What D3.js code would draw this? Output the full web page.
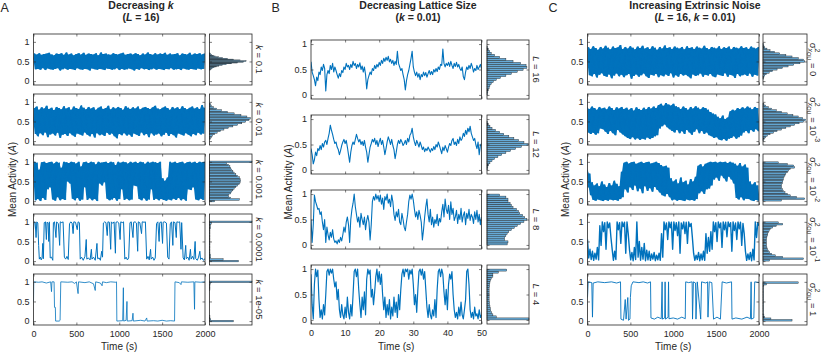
<!DOCTYPE html>
<html>
<head>
<meta charset="utf-8">
<script src="https://cdnjs.cloudflare.com/ajax/libs/d3/7.8.5/d3.min.js"></script>
<style>
  body { margin: 0; background: #fff; }
  text { font-family: "Liberation Sans", Arial, sans-serif; fill: #262626; }
</style>
</head>
<body>
<div id="chart"></div>
<script>
// ---- tick values ----
var yTicks = [0, 0.5, 1];
var ticksA = [0, 500, 1000, 1500, 2000];
var ticksB = [0, 10, 20, 30, 40, 50];

// ---- row labels ----
var rowLabelsA = ["0.1", "0.01", "0.001", "0.0001", "1e-05"];
var rowLabelsB = ["16", "12", "8", "4"];
var rowLabelsC = [["0", ""], ["10", "-3"], ["10", "-2"], ["10", "-1"], ["1", ""]];

// titles: [text, italic]
var titleA = [[["Decreasing ", 0], ["k", 1]], [["(", 0], ["L", 1], [" = 16)", 0]]];
var titleB = [[["Decreasing Lattice Size", 0]], [["(", 0], ["k", 1], [" = 0.01)", 0]]];
var titleC = [[["Increasing Extrinsic Noise", 0]], [["(", 0], ["L", 1], [" = 16, ", 0], ["k", 1], [" = 0.01)", 0]]];

// ---- time series, evenly sampled over the window ----
var seriesA1 = [0.55,0.70,0.30,0.68,0.31,0.71,0.29,0.67,0.33,0.69,0.28,0.70,0.32,0.72,0.30,0.68,0.29,0.66,0.31,0.70,0.33,0.69,0.27,0.71,0.30,0.67,0.32,0.73,0.29,0.68,0.31,0.70,0.30,0.66,0.28,0.69,0.33,0.71,0.30,0.68,0.29,0.72,0.31,0.67,0.30,0.70,0.27,0.69,0.32,0.68,0.30,0.71,0.29,0.66,0.31,0.73,0.30,0.69,0.28,0.70,0.32,0.68,0.31,0.67,0.29,0.71,0.30,0.69,0.33,0.68,0.28,0.70,0.31,0.72,0.29,0.67,0.30,0.69,0.32,0.70,0.30,0.68,0.27,0.71,0.31,0.69,0.29,0.66,0.33,0.70,0.30,0.68,0.31,0.73,0.28,0.69,0.30,0.67,0.32,0.71,0.29,0.68,0.31,0.70,0.30,0.69,0.28,0.72,0.31,0.67,0.30,0.70,0.33,0.68,0.29,0.69,0.30,0.71,0.31,0.66,0.28,0.70,0.32,0.69,0.30,0.68,0.29,0.72,0.31,0.67,0.30,0.70,0.29,0.69,0.32,0.71,0.30,0.68,0.31,0.70];
var seriesA2 = [0.50,0.84,0.18,0.88,0.12,0.80,0.20,0.86,0.15,0.83,0.22,0.90,0.10,0.82,0.17,0.85,0.19,0.79,0.14,0.87,0.21,0.84,0.08,0.81,0.16,0.89,0.18,0.83,0.13,0.86,0.20,0.80,0.15,0.88,0.11,0.84,0.19,0.82,0.17,0.91,0.14,0.85,0.22,0.81,0.16,0.87,0.12,0.83,0.18,0.86,0.09,0.80,0.20,0.85,0.15,0.88,0.17,0.82,0.13,0.84,0.21,0.90,0.16,0.81,0.19,0.86,0.12,0.83,0.07,0.87,0.18,0.84,0.15,0.80,0.20,0.89,0.14,0.85,0.17,0.82,0.11,0.86,0.19,0.83,0.16,0.88,0.13,0.81,0.22,0.85,0.15,0.87,0.18,0.84,0.10,0.82,0.20,0.86,0.14,0.90,0.17,0.83,0.19,0.81,0.12,0.85,0.16,0.88,0.21,0.84,0.13,0.80,0.18,0.87,0.15,0.83,0.09,0.86,0.19,0.82,0.17,0.89,0.14,0.84,0.20,0.81,0.16,0.85,0.12,0.88,0.18,0.83,0.15,0.86,0.21,0.82,0.17,0.92,0.19,0.85];
var seriesA3 = [0.62,1.0,0.02,0.98,0.05,0.80,0.0,0.99,0.08,1.0,0.03,0.97,0.30,0.99,0.35,1.0,0.04,0.96,0.01,1.0,0.10,0.98,0.02,0.85,0.05,1.0,0.03,0.99,0.50,0.97,0.45,1.0,0.06,0.99,0.02,0.96,0.08,1.0,0.01,0.88,0.04,0.99,0.35,1.0,0.03,0.97,0.07,1.0,0.02,0.99,0.05,0.94,0.0,1.0,0.45,0.98,0.40,0.99,0.48,1.0,0.06,0.97,0.02,1.0,0.04,0.99,0.08,0.92,0.01,1.0,0.05,0.98,0.30,1.0,0.03,0.99,0.06,0.96,0.02,1.0,0.04,0.98,0.40,1.0,0.38,0.97,0.05,1.0,0.02,0.99,0.07,0.95,0.01,1.0,0.04,0.98,0.30,1.0,0.03,0.99,0.06,0.97,0.02,1.0,0.05,0.58,0.03,0.52,0.01,0.60,0.04,1.0,0.02,0.98,0.06,1.0,0.03,0.97,0.08,0.99,0.02,1.0,0.05,0.96,0.01,0.99,0.30,1.0,0.28,0.98,0.35,1.0,0.04,0.97,0.02,1.0,0.06,0.99,0.03,1.0];
// step-like traces as [time, value]
var seriesA4 = [[0,0.8],[8,1],[20,0.98],[30,0.6],[38,1],[50,0.97],[60,0.4],[68,0.05],[80,0.1],[90,0.03],[100,0.08],[108,0.45],[115,0.06],[125,0.98],[140,1],[150,0.55],[158,0.99],[170,0.97],[178,0.5],[185,1],[195,0.08],[210,0.1],[225,0.02],[232,0.98],[245,1],[262,0.6],[270,1],[290,0.95],[305,0.4],[312,1],[330,0.98],[345,1],[360,0.1],[375,0.05],[390,0.12],[405,0.04],[420,0.95],[435,1],[450,0.97],[462,0.7],[470,1],[490,0.99],[510,0.8],[520,1],[535,0.98],[545,0.05],[560,0.1],[580,0.02],[600,0.12],[615,0.55],[622,0.05],[640,0.08],[660,0.03],[675,0.3],[682,0.05],[700,0.1],[720,0.02],[740,0.45],[748,0.06],[765,0.08],[780,0.02],[795,0.25],[805,0.1],[815,0.97],[830,1],[845,0.98],[860,0.65],[868,1],[885,0.99],[900,0.3],[908,1],[925,0.96],[940,1],[955,0.2],[962,0.99],[980,1],[995,0.97],[1010,0.55],[1018,1],[1035,0.98],[1050,1],[1065,0.05],[1080,0.1],[1095,0.03],[1110,0.08],[1125,0.98],[1140,1],[1160,0.6],[1168,0.99],[1185,1],[1200,0.97],[1215,0.25],[1222,1],[1240,0.98],[1260,0.7],[1268,1],[1290,0.99],[1305,1],[1320,0.05],[1335,0.12],[1350,0.03],[1365,0.3],[1372,0.05],[1390,0.1],[1405,0.02],[1420,0.08],[1435,0.96],[1450,1],[1465,0.5],[1472,0.98],[1490,1],[1505,0.45],[1512,0.99],[1530,1],[1550,0.97],[1565,0.1],[1580,0.05],[1595,0.95],[1610,1],[1625,0.4],[1632,1],[1650,0.98],[1665,0.6],[1672,1],[1690,0.99],[1705,1],[1720,0.3],[1728,0.98],[1745,0.08],[1760,0.03],[1775,0.4],[1782,0.06],[1800,0.1],[1815,0.02],[1830,0.3],[1838,0.05],[1855,0.12],[1870,0.04],[1885,0.5],[1892,0.06],[1910,0.02],[1925,0.1],[1940,0.25],[1948,0.04],[1965,0.08],[1980,0.02],[2000,0.06]];
var seriesA5 = [[0,0.5],[3,1],[60,0.99],[100,1],[150,0.97],[200,1],[210,0.75],[215,1],[240,1],[245,0.35],[255,0.35],[258,0],[300,0],[310,0.02],[318,1],[400,0.99],[450,1],[480,0.96],[500,1],[520,0.7],[525,1],[600,0.98],[650,1],[700,0.95],[720,0.78],[725,1],[780,0.97],[800,0.9],[805,1],[850,0.98],[900,1],[960,0.99],[968,1],[972,0],[1040,0.01],[1048,0.85],[1052,0],[1080,0.02],[1090,0.5],[1094,0],[1150,0.01],[1160,0.2],[1165,0],[1250,0.02],[1300,0],[1320,0.08],[1325,0],[1400,0.01],[1450,0],[1500,0.02],[1550,0],[1600,0.01],[1645,0],[1650,1],[1700,0.98],[1720,0.93],[1725,1],[1800,0.99],[1870,1],[1878,0.3],[1882,1],[1950,0.99],[2000,1]];

var seriesB1 = [0.65,0.45,0.38,0.30,0.18,0.35,0.28,0.45,0.40,0.55,0.48,0.60,0.52,0.08,0.40,0.48,0.42,0.58,0.50,0.62,0.45,0.55,0.48,0.40,0.33,0.42,0.36,0.48,0.44,0.55,0.50,0.62,0.55,0.58,0.50,0.60,0.54,0.66,0.58,0.62,0.52,0.60,0.55,0.63,0.50,0.57,0.45,0.55,0.40,0.12,0.30,0.38,0.45,0.40,0.52,0.48,0.58,0.52,0.60,0.55,0.64,0.58,0.68,0.62,0.72,0.66,0.74,0.68,0.76,0.65,0.70,0.62,0.68,0.58,0.66,0.60,0.86,0.62,0.55,0.48,0.52,0.40,0.30,0.10,0.28,0.40,0.48,0.60,0.72,0.86,0.55,0.45,0.38,0.45,0.35,0.42,0.30,0.40,0.36,0.45,0.38,0.44,0.35,0.42,0.48,0.40,0.46,0.40,0.50,0.45,0.52,0.46,0.55,0.50,0.60,0.58,0.90,0.62,0.55,0.62,0.58,0.64,0.56,0.66,0.58,0.52,0.62,0.56,0.64,0.55,0.60,0.52,0.48,0.55,0.36,0.30,0.45,0.55,0.50,0.58,0.52,0.62,0.55,0.45,0.52,0.48,0.58,0.50,0.55,0.60,0.52];
var seriesB2 = [0.42,0.30,0.12,0.20,0.35,0.28,0.42,0.38,0.48,0.40,0.52,0.45,0.55,0.58,0.50,0.62,0.72,0.88,0.78,0.70,0.60,0.52,0.55,0.45,0.40,0.30,0.38,0.48,0.55,0.60,0.52,0.58,0.45,0.30,0.15,0.35,0.48,0.55,0.50,0.60,0.70,0.62,0.55,0.60,0.50,0.56,0.48,0.58,0.45,0.35,0.15,0.30,0.45,0.52,0.60,0.55,0.62,0.50,0.58,0.46,0.55,0.62,0.50,0.58,0.45,0.30,0.42,0.55,0.65,0.58,0.50,0.60,0.48,0.40,0.22,0.35,0.50,0.58,0.52,0.60,0.55,0.48,0.52,0.58,0.50,0.62,0.55,0.68,0.72,0.82,0.65,0.55,0.48,0.58,0.52,0.45,0.55,0.48,0.40,0.45,0.36,0.42,0.38,0.45,0.40,0.35,0.42,0.38,0.46,0.40,0.50,0.45,0.55,0.48,0.40,0.32,0.45,0.38,0.48,0.42,0.35,0.45,0.52,0.48,0.58,0.62,0.50,0.55,0.48,0.60,0.52,0.65,0.58,0.62,0.72,0.66,0.78,0.70,0.82,0.75,0.86,0.72,0.65,0.58,0.62,0.50,0.42,0.55,0.30,0.48,0.52];
var seriesB3 = [0.50,0.05,0.40,0.98,0.85,0.78,0.70,0.72,0.60,0.65,0.45,0.30,0.50,0.05,0.35,0.20,0.10,0.25,0.15,0.30,0.12,0.05,0.08,0.02,0.10,0.05,0.15,0.08,0.20,0.35,0.25,0.45,0.55,0.40,0.05,0.50,0.70,0.82,1.00,0.75,0.60,0.45,0.55,0.35,0.62,0.50,0.40,0.55,0.30,0.48,0.58,0.45,0.10,0.40,0.85,0.95,0.88,1.00,0.90,0.97,0.85,0.98,0.80,0.92,0.70,0.95,0.88,1.00,0.82,0.90,0.75,0.98,0.85,0.60,0.48,0.65,0.55,0.70,0.45,0.40,0.62,0.50,0.35,0.28,0.45,0.60,0.85,0.98,0.90,1.00,0.88,0.70,0.55,0.65,0.50,0.68,0.58,0.45,0.10,0.30,0.55,0.75,0.90,0.60,0.45,0.70,0.40,0.55,0.35,0.50,0.42,0.60,0.38,0.52,0.45,0.65,0.80,0.55,0.90,0.70,0.62,0.78,0.50,0.85,0.60,0.72,0.48,0.55,0.68,0.42,0.60,0.50,0.72,0.45,0.58,0.65,0.40,0.62,0.52,0.70,0.48,0.60,0.55,0.42,0.65,0.50,0.68,0.45,0.60,0.40,0.55];
var seriesB4 = [0.90,0.30,0.02,0.70,1.00,0.85,0.98,0.40,0.05,0.20,0.02,0.30,0.10,0.50,0.95,1.00,0.88,1.00,0.92,1.00,0.80,0.65,0.75,0.40,0.60,0.20,0.05,0.30,0.10,0.02,0.25,0.05,0.45,0.15,0.02,0.30,0.08,0.50,0.95,1.00,0.85,1.00,0.60,0.30,0.05,0.45,0.20,0.55,0.10,0.80,1.00,0.90,0.98,0.45,0.60,0.30,0.55,0.85,1.00,0.75,0.95,0.70,0.90,0.50,0.20,0.45,0.05,0.30,0.10,0.40,0.02,0.25,0.08,0.45,0.15,0.35,0.05,0.50,0.20,0.60,0.90,1.00,0.85,1.00,0.95,1.00,0.80,0.98,0.90,1.00,0.70,0.30,0.50,0.15,0.60,0.95,1.00,0.88,1.00,0.80,0.95,0.60,0.25,0.05,0.30,0.10,0.02,0.20,0.08,0.40,0.05,0.60,0.95,1.00,0.85,1.00,0.90,0.55,0.30,0.60,0.20,0.70,0.90,0.80,0.95,0.50,0.20,0.05,0.15,0.02,0.25,0.08,0.35,0.10,0.02,0.20,0.40,0.95,1.00,0.70,0.20,0.05,0.15,0.02,0.25,0.08,0.12,0.02,0.20,0.05,0.10];

var seriesC1 = [0.50,0.86,0.15,0.82,0.12,0.89,0.18,0.84,0.09,0.80,0.16,0.87,0.20,0.83,0.13,0.90,0.11,0.85,0.17,0.81,0.07,0.88,0.14,0.84,0.19,0.86,0.12,0.92,0.16,0.82,0.10,0.87,0.15,0.83,0.18,0.89,0.06,0.85,0.13,0.81,0.17,0.88,0.11,0.84,0.15,0.90,0.19,0.83,0.12,0.86,0.08,0.82,0.16,0.89,0.14,0.85,0.18,0.80,0.10,0.87,0.15,0.83,0.12,0.91,0.17,0.84,0.13,0.86,0.20,0.82,0.09,0.88,0.15,0.85,0.11,0.83,0.18,0.87,0.14,0.81,0.16,0.89,0.12,0.84,0.07,0.86,0.17,0.82,0.13,0.88,0.15,0.85,0.19,0.83,0.11,0.90,0.16,0.84,0.14,0.81,0.18,0.87,0.12,0.85,0.10,0.83,0.17,0.89,0.15,0.82,0.13,0.86,0.20,0.84,0.11,0.88,0.16,0.81,0.14,0.87,0.08,0.85,0.18,0.83,0.12,0.89,0.15,0.84,0.17,0.86,0.13,0.82,0.19,0.88,0.11,0.85,0.16,0.83,0.14,0.87];
var seriesC2 = [0.86,0.22,0.82,0.18,0.88,0.21,0.84,0.16,0.80,0.20,0.87,0.32,0.83,0.30,0.85,0.24,0.81,0.18,0.88,0.26,0.84,0.20,0.79,0.15,0.86,0.28,0.83,0.22,0.87,0.17,0.82,0.12,0.85,0.08,0.80,0.05,0.84,0.10,0.78,0.04,0.86,0.07,0.82,0.03,0.79,0.06,0.85,0.04,0.81,0.09,0.87,0.05,0.83,0.08,0.88,0.12,0.84,0.15,0.92,0.32,0.95,0.38,0.90,0.42,0.97,0.35,0.93,0.30,0.91,0.26,0.95,0.22,0.89,0.28,0.86,0.20,0.82,0.25,0.88,0.18,0.84,0.28,0.80,0.22,0.87,0.16,0.83,0.24,0.89,0.30,0.85,0.20,0.81,0.26,0.86,0.18,0.84,0.22,0.80,0.15,0.74,0.12,0.70,0.08,0.68,0.10,0.62,0.04,0.58,0.02,0.65,0.05,0.56,0.01,0.60,0.06,0.76,0.08,0.80,0.12,0.78,0.06,0.84,0.10,0.82,0.14,0.86,0.22,0.83,0.26,0.88,0.20,0.85,0.28,0.81,0.24,0.87,0.30,0.84,0.25];
var seriesC3 = [0.80,0.35,0.70,0.15,0.48,0.03,0.40,0.01,0.45,0.04,0.38,0.02,0.50,0.00,0.42,0.03,0.36,0.01,0.46,0.04,0.40,0.02,0.52,0.03,0.44,0.01,0.38,0.05,0.75,0.10,0.98,0.30,1.00,0.22,0.96,0.35,0.99,0.28,1.00,0.40,0.95,0.25,0.98,0.32,1.00,0.20,0.97,0.38,0.99,0.26,1.00,0.33,0.96,0.24,0.98,0.36,1.00,0.28,0.97,0.22,0.92,0.15,0.88,0.12,0.90,0.18,0.85,0.10,0.58,0.02,0.50,0.04,0.55,0.01,0.45,0.03,0.60,0.02,0.48,0.00,0.52,0.04,0.42,0.02,0.56,0.03,0.50,0.01,0.62,0.05,0.90,0.20,0.94,0.25,0.88,0.18,0.95,0.30,0.98,0.32,1.00,0.40,0.99,0.55,1.00,0.60,0.98,0.52,1.00,0.65,0.99,0.58,1.00,0.50,0.97,0.62,1.00,0.55,0.98,0.45,0.95,0.08,0.90,0.04,0.97,0.10,0.88,0.02,0.93,0.06,0.85,0.05,0.50,0.02,0.42,0.00,0.48,0.03,0.40,0.01];
var seriesC4 = [0.55,0.08,0.30,0.04,0.25,0.02,0.20,0.05,0.35,0.03,0.90,0.40,1.00,0.75,0.98,0.30,1.00,0.85,0.97,0.60,0.30,0.02,0.25,0.04,1.00,0.80,0.98,0.45,1.00,0.88,0.99,0.20,1.00,0.70,0.30,0.03,0.22,0.01,0.35,0.04,1.00,0.10,0.50,0.02,0.35,0.05,0.45,0.01,0.28,0.03,0.25,0.02,0.18,0.05,0.22,0.01,0.15,0.03,0.20,0.02,0.70,0.10,1.00,0.80,0.97,0.55,1.00,0.85,0.99,0.30,1.00,0.78,0.98,0.65,1.00,0.20,0.97,0.82,1.00,0.70,0.99,0.45,1.00,0.88,0.96,0.60,0.20,0.02,0.15,0.04,0.22,0.01,0.18,0.03,0.25,0.02,0.70,0.20,0.60,0.25,0.75,0.30,1.00,0.75,0.98,0.50,1.00,0.85,0.97,0.35,1.00,0.80,0.99,0.62,1.00,0.88,0.98,0.25,1.00,0.78,0.97,0.55,1.00,0.82,0.99,0.40,0.96,0.70,0.25,0.02,0.18,0.04,0.22,0.01,0.30,0.03,1.00,0.60,0.98,0.90];
var seriesC5 = [[0,0.6],[8,1],[50,0.98],[58,0.1],[66,0.97],[120,1],[200,0.98],[280,1],[340,0.97],[385,1],[390,0.05],[420,0.02],[440,0.55],[450,0.05],[470,0.6],[478,0.02],[495,0.05],[500,0.6],[510,0.9],[530,1],[600,0.98],[650,1],[700,0.97],[735,1],[740,0.08],[780,0.05],[820,0.1],[860,0.06],[870,1],[875,0.05],[900,0.08],[905,1],[910,0.05],[940,0.1],[945,1],[950,0.06],[1000,0.08],[1050,0.05],[1100,0.1],[1140,0.06],[1145,1],[1180,0.98],[1220,1],[1225,0.05],[1235,1],[1260,0.97],[1265,0.05],[1280,1],[1310,0.3],[1320,0.05],[1330,1],[1380,0.97],[1400,1],[1405,0.1],[1420,1],[1450,0.98],[1470,0.05],[1510,0.1],[1550,0.05],[1570,1],[1620,0.97],[1680,1],[1685,0.05],[1730,0.08],[1800,0.05],[1860,0.1],[1900,0.06],[1908,1],[1912,0.05],[1940,0.08],[1950,1],[2000,0.98]];

// ---- histograms: relative counts (% of box width), first bin edge, bin width ----
var histA1 = [2,4,7,11,16,22,30,40,52,66,80,86,72,56,42,30,21,14,9,5,3,1];
var histA2 = [2,4,7,12,18,26,34,44,55,66,76,85,93,96,88,74,58,42,28,17,9,4,2];
var histA3 = [12,70,50,45,45,50,52,55,58,62,66,70,72,73,72,70,66,62,58,55,52,50,48,45,40,100];
var histA4 = [68,32,3,2,2,1,1,1,1,1,1,1,1,1,1,1,1,1,1,1,1,2,2,2,4,100];
var histA5 = [56,3,1,1,0,0,0,0,0,0,0,0,0,0,0,0,0,0,0,0,1,1,1,1,2,100];
var histLoA = [0.28, 0.04, -0.02, -0.02, -0.02];
var histBwA = [0.02, 0.04, 0.04, 0.04, 0.04];

var histB1 = [1,2,3,5,7,10,15,22,32,45,58,72,86,95,93,80,62,45,30,18,10,6,3,1,0];
var histB2 = [1,2,4,7,12,18,26,35,45,56,68,82,98,88,75,64,52,40,30,20,12,7,3,1,0];
var histB3 = [48,50,42,42,45,48,52,58,65,72,80,88,95,90,85,78,75,70,62,58,55,50,50,45,30];
var histB4 = [100,22,14,11,9,8,7,6,6,5,5,5,5,5,5,5,6,6,7,8,10,14,14,27,47];
var histLoB = [0, 0, 0, 0];
var histBwB = [0.04, 0.04, 0.04, 0.04];

var histC1 = [0,1,2,4,8,14,22,32,44,57,70,84,95,92,80,66,52,38,26,16,9,4,2,1,0];
var histC2 = [1,3,6,10,16,24,32,42,52,62,72,82,92,97,90,80,68,55,42,30,20,12,6,2,0];
var histC3 = [42,95,76,62,55,50,46,44,42,42,42,44,45,46,46,48,50,52,55,58,62,72,70,55,35];
var histC4 = [15,92,45,28,20,15,12,10,9,8,8,8,8,8,8,9,10,11,12,14,17,22,30,45,35];
var histC5 = [66,18,4,2,1,1,1,1,1,1,1,1,1,1,1,1,1,1,1,1,1,1,2,8,80];
var histLoC = [0, 0, 0, 0, 0];
var histBwC = [0.04, 0.04, 0.04, 0.04, 0.04];

// ---- layout ----
var W = 830, H = 353;
var blue = "#0072BD", axisCol = "#262626";
var font = '"Liberation Sans", Arial, sans-serif';

var panels = [
  {letter: "A", lx: 0.5, x0: 33.5, x1: 205, hx0: 209.5, hx1: 252, labX: 259.5, ylabX: 12, tcx: 141,
   tops: [34, 94, 154, 214, 274], h: 51, yDom: [-0.1, 1.2], T: 2000, xTicks: ticksA, title: titleA,
   series: [seriesA1, seriesA2, seriesA3, seriesA4, seriesA5],
   hist: [histA1, histA2, histA3, histA4, histA5], lo: histLoA, bw: histBwA, kind: "k", labels: rowLabelsA,
   lw: [0.8, 0.8, 0.8, 1.0, 0.8], dense: [1, 1, 1, 0, 0]},
  {letter: "B", lx: 271.5, x0: 311, x1: 481.5, hx0: 487, hx1: 529, labX: 537, ylabX: 288, tcx: 418,
   tops: [40, 115, 190, 265], h: 59, yDom: [-0.08, 1.08], T: 50, xTicks: ticksB, title: titleB,
   series: [seriesB1, seriesB2, seriesB3, seriesB4],
   hist: [histB1, histB2, histB3, histB4], lo: histLoB, bw: histBwB, kind: "L", labels: rowLabelsB,
   lw: [1.1, 1.1, 1.1, 1.2], dense: [0, 0, 0, 0]},
  {letter: "C", lx: 548.5, x0: 587.5, x1: 759, hx0: 763, hx1: 807, labX: 814, ylabX: 565, tcx: 695,
   tops: [34, 94, 154, 214, 274], h: 51, yDom: [-0.1, 1.2], T: 2000, xTicks: ticksA, title: titleC,
   series: [seriesC1, seriesC2, seriesC3, seriesC4, seriesC5],
   hist: [histC1, histC2, histC3, histC4, histC5], lo: histLoC, bw: histBwC, kind: "sigma", labels: rowLabelsC,
   lw: [0.8, 0.8, 0.8, 1.4, 0.9], dense: [1, 1, 1, 0, 0]}
];

var svg = d3.select("#chart").append("svg")
    .attr("width", W).attr("height", H);
svg.append("rect").attr("width", W).attr("height", H).attr("fill", "#fff");

function rich(t, segs) {
  segs.forEach(function(s) {
    t.append("tspan").attr("font-style", s[1] ? "italic" : "normal").text(s[0]);
  });
}

function styleAxis(g) {
  g.select(".domain").remove();
  g.attr("font-family", font).attr("font-size", 9).style("color", axisCol);
  g.selectAll(".tick line").attr("stroke-width", 0.6);
}

function toPoints(s, T) {
  if (typeof s[0] === "number") {
    return s.map(function(v, i) { return [i / (s.length - 1) * T, v]; });
  }
  return s;
}

var clipId = 0;

panels.forEach(function(p) {
  // panel letter
  svg.append("text").attr("x", p.lx).attr("y", 12)
    .attr("font-size", 12.5).text(p.letter);

  // title
  p.title.forEach(function(line, li) {
    var t = svg.append("text").attr("x", p.tcx).attr("y", 9 + li * 11.5)
      .attr("text-anchor", "middle").attr("font-size", 10.5).attr("font-weight", "bold");
    rich(t, line);
  });

  var x = d3.scaleLinear().domain([0, p.T]).range([p.x0, p.x1]);

  p.tops.forEach(function(top, r) {
    var y = d3.scaleLinear().domain(p.yDom).range([top + p.h, top]);
    var last = r === p.tops.length - 1;

    // trace
    var cid = "clip" + (clipId++);
    svg.append("clipPath").attr("id", cid).append("rect")
      .attr("x", p.x0).attr("y", top).attr("width", p.x1 - p.x0).attr("height", p.h);
    var pts = toPoints(p.series[r], p.T);

    if (p.dense[r]) {
      // fast fluctuations: fill the span covered between neighbouring samples
      var spans = pts.map(function(d, i) {
        var n = pts[Math.min(i + 1, pts.length - 1)];
        return [d[0], Math.min(d[1], n[1]), Math.max(d[1], n[1])];
      });
      var area = d3.area().x(function(d) { return x(d[0]); })
        .y0(function(d) { return y(d[1]); }).y1(function(d) { return y(d[2]); });
      svg.append("path").datum(spans)
        .attr("clip-path", "url(#" + cid + ")")
        .attr("d", area).attr("fill", blue);
    }

    var line = d3.line().x(function(d) { return x(d[0]); }).y(function(d) { return y(d[1]); });
    svg.append("path")
      .datum(pts)
      .attr("clip-path", "url(#" + cid + ")")
      .attr("d", line)
      .attr("fill", "none")
      .attr("stroke", blue)
      .attr("stroke-width", p.lw[r])
      .attr("stroke-linejoin", "round");

    // axes with inward ticks on all sides
    var gl = svg.append("g").attr("transform", "translate(" + p.x0 + ",0)")
      .call(d3.axisLeft(y).tickValues(yTicks).tickSize(-2.5).tickPadding(4).tickFormat(d3.format("~g")));
    styleAxis(gl);
    var gr = svg.append("g").attr("transform", "translate(" + p.x1 + ",0)")
      .call(d3.axisRight(y).tickValues(yTicks).tickSize(-2.5).tickFormat(""));
    styleAxis(gr);
    var gb = svg.append("g").attr("transform", "translate(0," + (top + p.h) + ")")
      .call(d3.axisBottom(x).tickValues(p.xTicks).tickSize(-2.5).tickPadding(5.5)
        .tickFormat(last ? d3.format("~g") : ""));
    styleAxis(gb);
    var gt = svg.append("g").attr("transform", "translate(0," + top + ")")
      .call(d3.axisTop(x).tickValues(p.xTicks).tickSize(-2.5).tickFormat(""));
    styleAxis(gt);
    svg.append("rect").attr("x", p.x0).attr("y", top)
      .attr("width", p.x1 - p.x0).attr("height", p.h)
      .attr("fill", "none").attr("stroke", axisCol).attr("stroke-width", 0.8);

    // histogram
    var hx = d3.scaleLinear().domain([0, 100]).range([p.hx0, p.hx1]);
    var lo = p.lo[r], bw = p.bw[r];
    svg.append("g").selectAll("rect")
      .data(p.hist[r].map(function(c, i) { return {c: c, a: lo + i * bw, b: lo + (i + 1) * bw}; })
        .filter(function(d) { return d.c > 0; }))
      .join("rect")
      .attr("x", p.hx0)
      .attr("y", function(d) { return y(d.b); })
      .attr("width", function(d) { return hx(d.c) - p.hx0; })
      .attr("height", function(d) { return y(d.a) - y(d.b); })
      .attr("fill", "#66aad7")
      .attr("stroke", "#1a1a1a")
      .attr("stroke-width", 0.4);
    var hl = svg.append("g").attr("transform", "translate(" + p.hx0 + ",0)")
      .call(d3.axisLeft(y).tickValues(yTicks).tickSize(-2.5).tickFormat(""));
    styleAxis(hl);
    var hr = svg.append("g").attr("transform", "translate(" + p.hx1 + ",0)")
      .call(d3.axisRight(y).tickValues(yTicks).tickSize(-2.5).tickFormat(""));
    styleAxis(hr);
    svg.append("rect").attr("x", p.hx0).attr("y", top)
      .attr("width", p.hx1 - p.hx0).attr("height", p.h)
      .attr("fill", "none").attr("stroke", axisCol).attr("stroke-width", 0.8);

    // row label, rotated
    var lt = svg.append("text")
      .attr("transform", "translate(" + p.labX + "," + (top + p.h / 2) + ") rotate(90)")
      .attr("text-anchor", "middle").attr("dominant-baseline", "central")
      .attr("font-size", 9.5);
    if (p.kind === "sigma") {
      var lab = p.labels[r];
      lt.append("tspan").text("\u03c3");
      lt.append("tspan").attr("font-size", 7).attr("dy", -4).text("2");
      lt.append("tspan").attr("font-size", 7).attr("dx", -3.9).attr("dy", 7.5).attr("font-style", "italic").text("x");
      lt.append("tspan").attr("font-size", 5.5).attr("dy", 2).text("OU");
      lt.append("tspan").attr("dy", -5.5).text(" = " + lab[0]);
      if (lab[1]) lt.append("tspan").attr("font-size", 7).attr("dy", -4).text(lab[1]);
    } else {
      rich(lt, [[p.kind, 1], [" = " + p.labels[r], 0]]);
    }
  });

  // axis titles
  var yl = svg.append("text")
    .attr("transform", "translate(" + p.ylabX + "," + ((p.tops[0] + p.tops[p.tops.length - 1] + p.h) / 2) + ") rotate(-90)")
    .attr("text-anchor", "middle").attr("dominant-baseline", "central").attr("font-size", 10);
  rich(yl, [["Mean Activity (", 0], ["A", 1], [")", 0]]);

  svg.append("text").attr("x", (p.x0 + p.x1) / 2).attr("y", 350)
    .attr("text-anchor", "middle").attr("font-size", 10).text("Time (s)");
});
</script>
</body>
</html>
